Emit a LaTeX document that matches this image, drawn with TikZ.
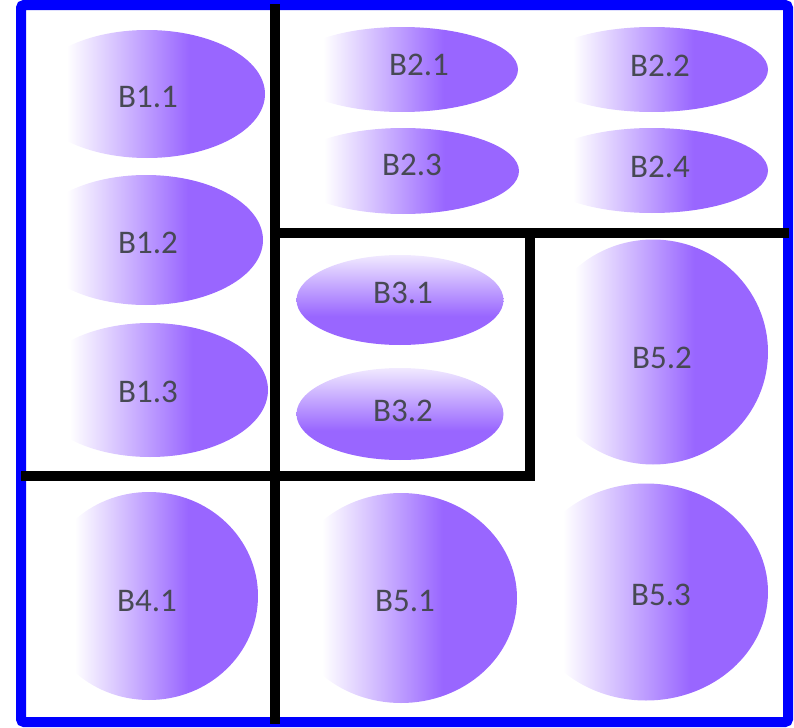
\documentclass[tikz,border=0pt]{standalone}
\usepackage{fontspec}
\setsansfont{Carlito}
\usetikzlibrary{shapes.geometric}
\definecolor{blobfill}{HTML}{9966FF}
\definecolor{blobtext}{HTML}{474954}
\definecolor{frameblue}{HTML}{0000FF}
\colorlet{blobtop}{blobfill!14}

% left part fades out to white, right part full purple
\pgfdeclarehorizontalshading{blobside}{100bp}{color(0bp)=(white); color(33bp)=(white);
    color(59bp)=(blobfill); color(100bp)=(blobfill)}
% light at the top, purple at the bottom
\pgfdeclareverticalshading{blobflat}{100bp}{color(0bp)=(blobfill); color(41bp)=(blobfill);
    color(75bp)=(blobtop); color(100bp)=(blobtop)}

\begin{document}
\begin{tikzpicture}[
    x=0.5pt, y=-0.5pt,
    blob/.style={ellipse, shade, shading=blobside, inner sep=0pt},
    flatblob/.style={ellipse, shade, shading=blobflat, inner sep=0pt},
    tag/.style={font=\sffamily\fontsize{16.5}{20}\selectfont, text=blobtext, inner sep=0pt},
    wall/.style={line width=5pt, draw=black},
    frame/.style={line width=5pt, draw=frameblue, rounded corners=1.5pt},
]
\useasboundingbox (0,0) rectangle (794,728);

% outer frame
\draw[frame] (21,5) rectangle (788,722);

% ============================================================
% Block 1 (left column)
% ============================================================
\node[blob, minimum width=118pt, minimum height=64pt] (e11) at (147,94) {};
\node[blob, minimum width=117pt, minimum height=65pt] (e12) at (146,240) {};
\node[blob, minimum width=118pt, minimum height=67pt] (e13) at (150,390) {};
\node[tag] (t11) at (148,97) {B1.1};
\node[tag] (t12) at (148,243) {B1.2};
\node[tag] (t13) at (148,392) {B1.3};

% ============================================================
% Block 2 (top right)
% ============================================================
\node[blob, minimum width=116pt, minimum height=42.5pt] (e21) at (402,69.5) {};
\node[blob, minimum width=116pt, minimum height=42.5pt] (e22) at (652,69.5) {};
\node[blob, minimum width=116pt, minimum height=43pt] (e23) at (403,171) {};
\node[blob, minimum width=116pt, minimum height=42.5pt] (e24) at (652,170.5) {};
\node[tag] (t21) at (419,65) {B2.1};
\node[tag] (t22) at (660,66) {B2.2};
\node[tag] (t23) at (412,165) {B2.3};
\node[tag] (t24) at (660,167) {B2.4};

% ============================================================
% Block 3 (middle)
% ============================================================
\node[flatblob, minimum width=103.5pt, minimum height=45pt] (e31) at (400,300) {};
\node[flatblob, minimum width=103.5pt, minimum height=46pt] (e32) at (400,414) {};
\node[tag] (t31) at (403,293) {B3.1};
\node[tag] (t32) at (403,411) {B3.2};

% ============================================================
% Blocks 4 and 5 (bottom and right)
% ============================================================
\node[blob, minimum width=109pt, minimum height=104pt] (e41) at (149,596) {};
\node[blob, minimum width=116pt, minimum height=105pt] (e51) at (401,598) {};
\node[blob, minimum width=115pt, minimum height=112.5pt] (e52) at (653,352) {};
\node[blob, minimum width=122pt, minimum height=108.5pt] (e53) at (646,592) {};
\node[tag] (t41) at (147,601) {B4.1};
\node[tag] (t51) at (405,601) {B5.1};
\node[tag] (t52) at (662,358) {B5.2};
\node[tag] (t53) at (661,595) {B5.3};

% partition walls, drawn over the frame
\draw[wall] (275,4) -- (275,724);
\draw[wall] (275,233) -- (789,233);
\draw[wall] (21,476) -- (530,476) -- (530,233);

\end{tikzpicture}
\end{document}
